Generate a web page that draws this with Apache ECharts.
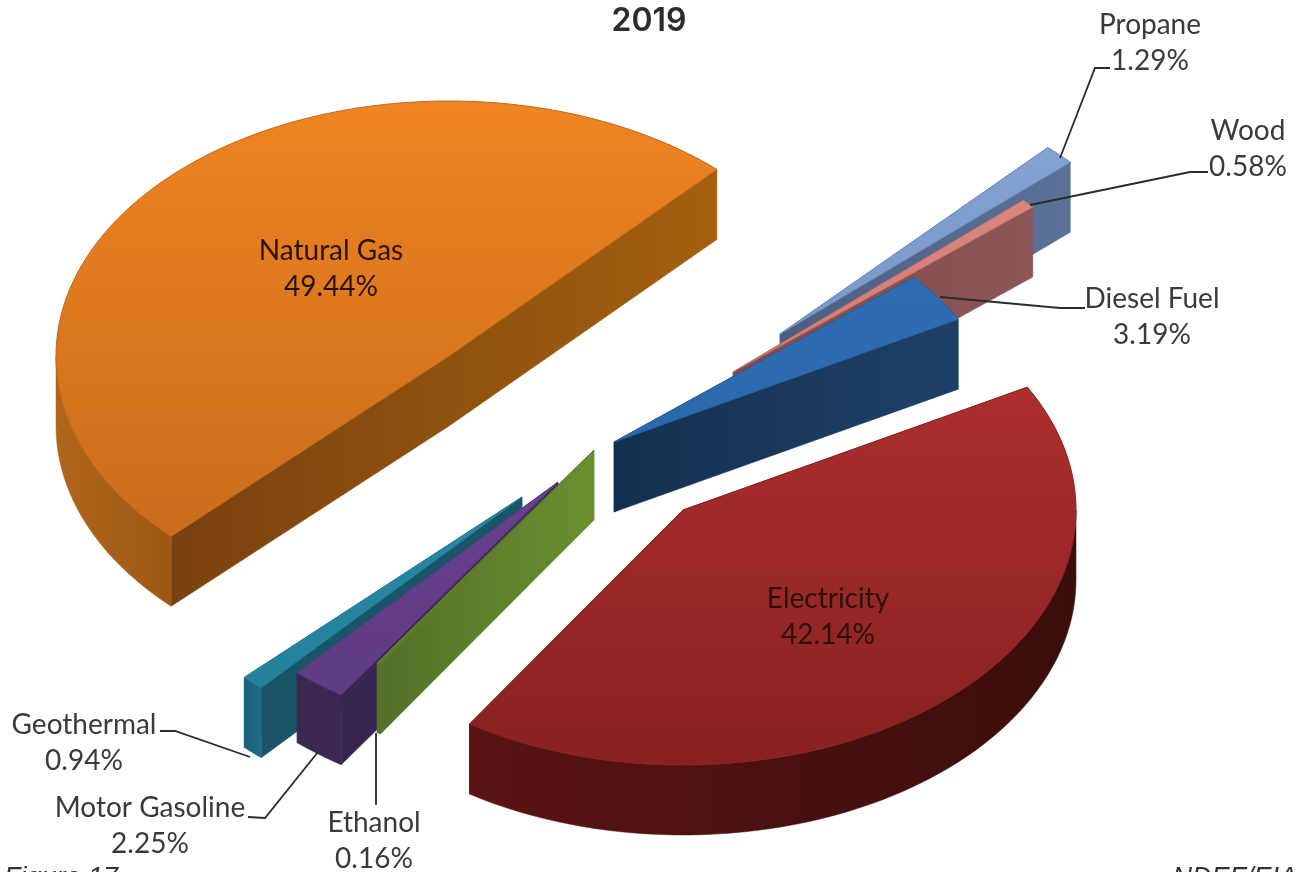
<!DOCTYPE html>
<html>
<head>
<meta charset="utf-8">
<title>2019</title>
<style>
  html, body { margin: 0; padding: 0; background: #fff; overflow: hidden; }
  #chart { width: 1297px; height: 872px; }
</style>
<script src="https://cdn.jsdelivr.net/npm/echarts@6/dist/echarts.min.js"></script>
</head>
<body>
<div id="chart"></div>
<script>
const categories = ["Natural Gas", "Propane", "Wood", "Diesel Fuel", "Electricity", "Ethanol", "Motor Gasoline", "Geothermal"];
const shares = [49.44, 1.29, 0.58, 3.19, 42.14, 0.16, 2.25, 0.94];

// look of each slice, same order as categories
const apexes = [[449, 356], [780, 334], [733, 372], [614, 442], [683, 510], [594, 450], [558, 482], [522, 497]];
const topColors = [["#f08421", "#c2681a"], ["#86a5d6", "#6d8dbd"], ["#dc8a82", "#c9706a"], ["#2f70b8", "#2a5f9e"], ["#ba3333", "#872120"], ["#668a2c", "#5c7a28"], ["#74499c", "#5d3a80"], ["#2c93ae", "#237f98"]];
const cutColors = [["#7a4210", "#a4600f"], ["#4c5f80", "#5a7298"], ["#7e4c4c", "#8c5656"], ["#14304f", "#1e4068"], ["#4a1010", "#4a1010"], ["#54702a", "#6b8f2e"], ["#33264c", "#40295a"], ["#1a5468", "#1a5468"]];
const sideColors = [["#b0661a", "#9c5814"], ["#5a7298", "#5a7298"], ["#8c5656", "#8c5656"], ["#1e4068", "#1e4068"], ["#5a1414", "#3a0e0c"], ["#54702a", "#54702a"], ["#3a2850", "#3a2850"], ["#1a6078", "#1f6d86"]];
const drawOrder = [0, 1, 2, 3, 7, 6, 5, 4];

// where the labels and leader lines sit
const labelPos = [[331, 269], [1150, 43], [1248, 149], [1152, 317], [828, 617], [374, 841], [150, 826], [84, 743]];
const leaders = [
  null,
  [[1110, 68], [1095, 68], [1060, 158]],
  [[1208, 172], [1190, 172], [1030, 205]],
  [[1085, 308], [1060, 308], [940, 297]],
  null,
  [[376, 805], [376, 733]],
  [[248, 817], [265, 818], [318, 752]],
  [[160, 731], [175, 731], [250, 757]]
];

const RX = 393, RY = 255, DEPTH = 70;
const START_ANGLE = 135;

const startAngles = [];
let running = START_ANGLE;
shares.forEach((v) => {
  startAngles.push(running);
  running += (v / 100) * 360;
});

const rad = (d) => (d * Math.PI) / 180;

function arcPoints(apex, from, to) {
  const pts = [];
  const steps = Math.max(2, Math.ceil((to - from) / 2));
  for (let i = 0; i <= steps; i++) {
    const t = rad(from + ((to - from) * i) / steps);
    pts.push([apex[0] + RX * Math.cos(t), apex[1] + RY * Math.sin(t)]);
  }
  return pts;
}

const down = (p) => [p[0], p[1] + DEPTH];

function grad(x, y, x2, y2, c) {
  return {
    type: "linear", x, y, x2, y2, global: true,
    colorStops: [{ offset: 0, color: c[0] }, { offset: 1, color: c[1] }]
  };
}

function poly(points, fill, stroke) {
  return {
    type: "polygon",
    shape: { points },
    style: { fill, stroke: stroke || fill, lineWidth: stroke ? 1 : 0.5 }
  };
}

function renderSlice(params, api) {
  const i = api.value(0);
  const apex = apexes[i];
  const from = startAngles[i];
  const to = from + (api.value(1) / 100) * 360;
  const arc = arcPoints(apex, from, to);
  const first = arc[0];
  const last = arc[arc.length - 1];
  const children = [];
  const cutX = [apex[0], first[0], last[0]];
  const cutFill = grad(Math.min(...cutX), 0, Math.max(...cutX), 0, cutColors[i]);

  // cut faces, the top covers whichever one points away
  children.push(poly([apex, last, down(last), down(apex)], cutFill));
  children.push(poly([apex, first, down(first), down(apex)], cutFill));

  // outer rim, only the part that faces us
  const ranges = [[from, to], [from - 360, to - 360]];
  ranges.forEach(([a, b]) => {
    const lo = Math.max(a, 0);
    const hi = Math.min(b, 180);
    if (hi <= lo) return;
    const rim = arcPoints(apex, lo, hi);
    const xs = rim.map((p) => p[0]);
    children.push(poly(rim.concat(rim.map(down).reverse()),
      grad(Math.min(...xs), 0, Math.max(...xs), 0, sideColors[i])));
  });

  children.push(poly([apex].concat(arc), grad(0, apex[1] - RY, 0, apex[1] + RY, topColors[i]), topColors[i][1]));
  return { type: "group", children };
}

const labelGraphics = categories.map((name, i) => ({
  type: "text",
  x: labelPos[i][0],
  y: labelPos[i][1],
  z: 10,
  style: {
    text: name + "\n" + shares[i].toFixed(2) + "%",
    fontFamily: "Lato",
    fontSize: 28,
    lineHeight: 36,
    align: "center",
    verticalAlign: "middle",
    fill: i === 0 || i === 4 ? "#2a1208" : "#3a3a3a"
  }
}));

const leaderGraphics = leaders.filter(Boolean).map((points) => ({
  type: "polyline",
  z: 9,
  shape: { points },
  style: { fill: null, stroke: "#2b2b2b", lineWidth: 1.8 }
}));

const chart = echarts.init(document.getElementById("chart"), null, { renderer: "canvas" });

chart.setOption({
  animation: false,
  backgroundColor: "#fff",
  title: {
    text: "2019",
    left: 644,
    top: 0,
    textAlign: "center",
    textStyle: { fontFamily: "Inter", fontSize: 32, fontWeight: 600, color: "#2c2c2c" }
  },
  graphic: labelGraphics.concat(leaderGraphics, [
    {
      type: "text", x: 4, y: 865, z: 10,
      style: { text: "Figure 17", fontFamily: "Liberation Sans", fontStyle: "italic", fontSize: 27, fill: "#333" }
    },
    {
      type: "text", x: 1297, y: 865, z: 10,
      style: { text: "NDEF/EIA", align: "right", fontFamily: "Liberation Sans", fontStyle: "italic", fontSize: 27, fill: "#333" }
    }
  ]),
  series: [
    {
      type: "custom",
      coordinateSystem: "none",
      renderItem: renderSlice,
      data: drawOrder.map((i) => [i, shares[i]])
    }
  ]
});
</script>
</body>
</html>
